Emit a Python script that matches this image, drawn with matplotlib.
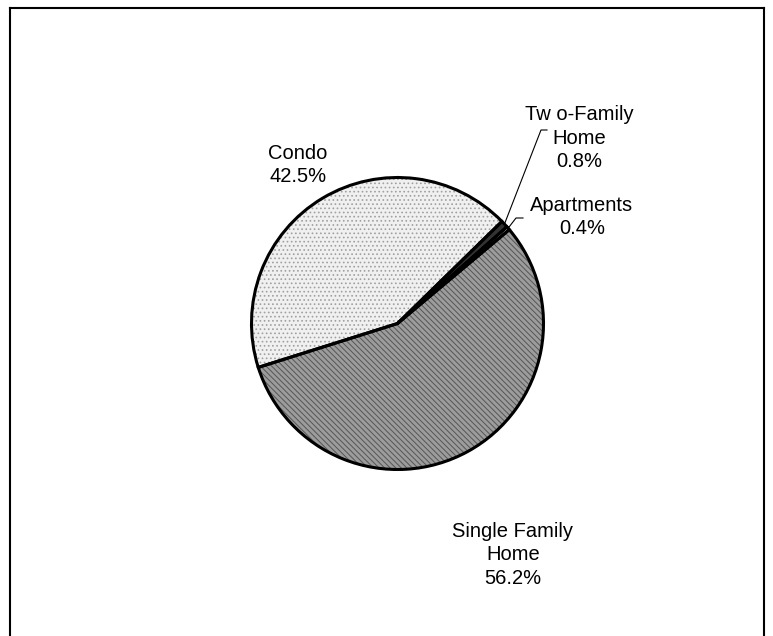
import matplotlib
matplotlib.use("Agg")
import matplotlib.pyplot as plt
import numpy as np

labels = ["Condo", "Two-Family\nHome", "Apartments", "Single Family\nHome"]
shares = [42.5, 0.8, 0.4, 56.2]
faces = ["#f0f0f0", "#333333", "#ffffff", "#9c9c9c"]
hatch_colors = ["#a0a0a0", "#333333", "#ffffff", "#555555"]
hatches = ["....", "", "", "\\\\\\\\\\\\"]
label_text = ["Tw o-Family\nHome" if l.startswith("Two") else l for l in labels]

plt.rcParams["font.family"] = ["Liberation Sans", "DejaVu Sans"]
plt.rcParams["hatch.linewidth"] = 0.7

W, H = 773, 636
fig = plt.figure(figsize=(W / 100, H / 100), dpi=100)
ax = fig.add_axes([0, 0, 1, 1])

cx, cy, r = 397.5, H - 323.5, 146
start = 197.5

# fill + hatch layer
wedges, _ = ax.pie(shares, radius=r, center=(cx, cy), startangle=start,
                   counterclock=False, colors=faces, hatch=hatches)
for w, hc in zip(wedges, hatch_colors):
    w.set_edgecolor(hc)
    w.set_linewidth(0)
# outline layer
ax.pie(shares, radius=r, center=(cx, cy), startangle=start, counterclock=False,
       colors=["none"] * 4,
       wedgeprops=dict(edgecolor="black", linewidth=2.2, joinstyle="miter"))

ax.set_xlim(0, W)
ax.set_ylim(0, H)
ax.set_aspect("equal")
ax.axis("off")

# label positions in pixels (x, y from top)
label_pos = [(298, 165), (579, 138), (582, 217), (513, 555)]
elbows = [None, (541, 130), (516, 218), None]
ends = [None, (547, 130), (523, 218), None]

for w, txt, s, pos, el, en in zip(wedges, label_text, shares, label_pos, elbows, ends):
    ax.text(pos[0], H - pos[1], f"{txt}\n{s:.1f}%", ha="center", va="center",
            multialignment="center", fontsize=14.5, linespacing=1.33)
    if el is not None:
        mid = np.deg2rad((w.theta1 + w.theta2) / 2)
        px, py = cx + r * np.cos(mid), cy + r * np.sin(mid)
        ax.plot([px, el[0], en[0]], [py, H - el[1], H - en[1]],
                color="black", lw=0.8)

# chart frame
fig.add_artist(plt.Line2D([10 / W, 10 / W], [0, 1 - 8 / H], color="black", lw=1.5,
                          transform=fig.transFigure))
fig.add_artist(plt.Line2D([10 / W, 764 / W], [1 - 8 / H, 1 - 8 / H], color="black",
                          lw=1.5, transform=fig.transFigure))
fig.add_artist(plt.Line2D([764 / W, 764 / W], [0, 1 - 8 / H], color="black", lw=1.5,
                          transform=fig.transFigure))

fig.savefig("out.png", dpi=100)
